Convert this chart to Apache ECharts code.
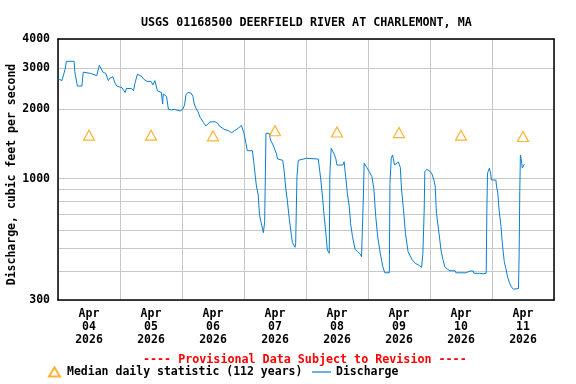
<!DOCTYPE html>
<html>
<head>
<meta charset="utf-8">
<script src="https://cdn.jsdelivr.net/npm/echarts@6/dist/echarts.min.js"></script>
<style>
html, body { margin: 0; padding: 0; background: #fff; }
#chart { width: 576px; height: 384px; }
</style>
</head>
<body>
<div id="chart"></div>
<script>
// hours since Apr 04 2026 00:00, discharge in cubic feet per second
var discharge = [
    [0, 2708], [1.5, 2645], [2, 2600], [2.75, 2961], [3.25, 3205], [6.25, 3205], [6.5, 2892],
    [7.5, 2508], [9.25, 2508], [9.75, 2877], [12.5, 2845], [15, 2780], [15.25, 2734], [16, 3082],
    [16.75, 3037], [17.5, 2870], [18.5, 2845], [19.5, 2645], [20, 2708], [21.25, 2751], [21.75, 2780],
    [22, 2590], [22.75, 2508], [23.25, 2477],
    [24.75, 2466], [25.25, 2428], [26, 2353], [26.5, 2450], [28.5, 2443], [29.25, 2394], [29.75, 2571],
    [30.75, 2822], [31.25, 2845], [32.5, 2751], [33.25, 2680], [34, 2708], [34.5, 2627], [36, 2627],
    [36.75, 2535], [37.5, 2645], [38, 2645], [38.5, 2390], [39.25, 2411], [40, 2353], [40.5, 2099],
    [40.75, 2320], [41.5, 2353], [42, 2260], [42.75, 1991], [44, 1977], [45, 1991], [45.75, 1957],
    [47.25, 1957],
    [48.25, 1991], [49, 2078], [49.5, 2295], [50.25, 2353], [51.5, 2340], [52.25, 2260], [52.75, 2099],
    [53.5, 2000], [54.25, 1940], [55, 1839], [56.25, 1750], [57.25, 1687], [57.75, 1704], [58.75, 1755],
    [60.75, 1761], [61.75, 1733], [62.5, 1687], [63.25, 1658], [64.25, 1633], [66, 1610], [67.25, 1578],
    [68.25, 1610], [69.25, 1633], [70, 1658], [71, 1696], [71.75, 1664],
    [72, 1568], [72.75, 1420], [73.25, 1320], [75.25, 1320], [75.75, 1183], [76.75, 939], [77.5, 850],
    [78, 697], [78.75, 638], [79.5, 585], [79.75, 585], [80, 652], [80.5, 1568], [81, 1585],
    [81.75, 1568], [82.25, 1468], [83.25, 1397], [84.5, 1287], [85, 1216], [87, 1200], [87.5, 1090],
    [88.25, 893], [88.75, 809], [89.5, 675], [90.25, 581], [90.75, 530], [91.75, 506], [92, 527],
    [92.5, 1020], [93, 1200], [93.75, 1210],
    [96.25, 1225], [100.75, 1215], [101.25, 1200], [101.75, 987], [102.5, 809], [103, 697],
    [103.75, 572], [104.25, 493], [105, 477], [105.25, 1055], [105.75, 1352], [106, 1370],
    [106.75, 1287], [107.5, 1225], [108, 1145], [110.25, 1145], [110.75, 1183], [111, 1165],
    [111.5, 987], [112, 865], [112.75, 757], [113.25, 642], [114, 562], [115, 496], [116, 485],
    [117, 473], [117.5, 461], [118, 461], [118.25, 865], [118.5, 1165], [118.75, 1180], [119.5, 1120],
    [120.5, 1072], [121.5, 1020], [122.25, 909], [123, 686], [123.75, 562], [124.75, 477],
    [125.75, 417], [126.5, 393], [128.25, 393], [128.5, 955], [129, 1225], [129.5, 1265],
    [129.75, 1225], [130.25, 1145], [131, 1160], [131.75, 1180], [132.5, 1120], [133, 893],
    [133.75, 733], [134.5, 581], [135.5, 485], [137, 449], [138.25, 432], [139.5, 425],
    [140.75, 415], [141.25, 477], [141.75, 733], [142, 1072], [142.75, 1098],
    [144, 1075], [144.75, 1048], [145.5, 987], [146, 930], [146.5, 709], [147.5, 581], [148.25, 493],
    [149, 449], [149.75, 417], [150.75, 407], [151.75, 401], [153.75, 401], [154, 393], [158, 393],
    [158.25, 400], [158.75, 393], [159.5, 400], [160.75, 400], [161, 391], [163.25, 391],
    [164.5, 389], [165.25, 382], [165.75, 391], [166, 709], [166.25, 1048], [166.5, 1075],
    [167, 1110], [167.5, 1048],
    [167.75, 987], [169.5, 987], [169.75, 930], [170.25, 865], [170.75, 733], [171.5, 621],
    [172, 525], [172.75, 439], [173.5, 404], [174, 378], [174.75, 356], [175.5, 342], [176.25, 334],
    [177, 336], [178.25, 336], [178.5, 469], [178.75, 879], [179, 1265], [179.25, 1225],
    [179.5, 1165], [179.75, 1111], [180.25, 1120], [180.5, 1155]
];

var medianHours = [12, 36, 60, 84, 108, 132, 156, 180];
var medianCfs = [1540, 1540, 1530, 1610, 1590, 1580, 1540, 1520];

var dayTicks = [12, 36, 60, 84, 108, 132, 156, 180];
var dayLabels = ['Apr\n04\n2026', 'Apr\n05\n2026', 'Apr\n06\n2026', 'Apr\n07\n2026',
                 'Apr\n08\n2026', 'Apr\n09\n2026', 'Apr\n10\n2026', 'Apr\n11\n2026'];

var yLabelValues = [300, 1000, 2000, 3000, 4000];
var yGridValues = [300, 400, 500, 600, 700, 800, 900, 1000, 2000, 3000, 4000];

var FONT = 'DejaVu Sans Mono';
var medianName = 'Median daily statistic (112 years)';

var chart = echarts.init(document.getElementById('chart'), null, { renderer: 'canvas' });

chart.setOption({
    animation: false,
    backgroundColor: '#fff',
    textStyle: { fontFamily: FONT },
    title: [{
        text: 'USGS 01168500 DEERFIELD RIVER AT CHARLEMONT, MA',
        left: 136,
        top: 12,
        textStyle: { fontFamily: FONT, fontSize: 11.7, fontWeight: 'bold', color: '#000' }
    }, {
        text: '---- Provisional Data Subject to Revision ----',
        left: 138,
        top: 349,
        textStyle: { fontFamily: FONT, fontSize: 11.7, fontWeight: 'bold', color: '#ff0000' }
    }],
    legend: [{
        data: [{ name: medianName, icon: 'triangle' }],
        left: 48,
        top: 366,
        itemWidth: 11,
        itemHeight: 9,
        padding: 0,
        textStyle: { fontFamily: FONT, fontSize: 11.5, fontWeight: 'bold', color: '#000', padding: [0, 0, 0, 2] }
    }, {
        data: [{ name: 'Discharge', icon: 'rect' }],
        left: 312,
        top: 366,
        itemWidth: 19,
        itemHeight: 1.2,
        padding: 0,
        textStyle: { fontFamily: FONT, fontSize: 11.5, fontWeight: 'bold', color: '#000' }
    }],
    grid: { left: 58, right: 22, top: 39, bottom: 84, outerBoundsMode: 'none' },
    xAxis: [{
        type: 'value',
        min: 0,
        max: 192,
        interval: 24,
        axisLine: { show: true, onZero: false, lineStyle: { color: '#000', width: 1.5 } },
        axisTick: { show: false },
        splitLine: { show: true, lineStyle: { color: '#c8c8c8', width: 1 } },
        axisLabel: {
            customValues: dayTicks,
            margin: 8,
            lineHeight: 13,
            fontFamily: FONT,
            fontSize: 11.5,
            fontWeight: 'bold',
            color: '#000',
            formatter: function (v) {
                var i = dayTicks.indexOf(v);
                return i < 0 ? '' : dayLabels[i];
            }
        }
    }, {
        type: 'value',
        position: 'top',
        min: 0,
        max: 192,
        axisLine: { show: true, onZero: false, lineStyle: { color: '#000', width: 1.5 } },
        axisTick: { show: false },
        axisLabel: { show: false },
        splitLine: { show: false }
    }],
    yAxis: [{
        type: 'log',
        logBase: 10,
        min: 300,
        max: 4000,
        name: 'Discharge, cubic feet per second',
        nameLocation: 'middle',
        nameGap: 40,
        nameMoveOverlap: false,
        nameTextStyle: { fontFamily: FONT, fontSize: 11.5, fontWeight: 'bold', color: '#000', padding: [0, 10, 0, 0] },
        axisLine: { show: true, onZero: false, lineStyle: { color: '#000', width: 1.5 } },
        axisTick: { show: false, customValues: yGridValues },
        splitLine: { show: true, lineStyle: { color: '#c8c8c8', width: 1 } },
        axisLabel: {
            customValues: yLabelValues,
            margin: 8,
            fontFamily: FONT,
            fontSize: 11.5,
            fontWeight: 'bold',
            color: '#000',
            formatter: function (v) { return String(Math.round(v)); }
        }
    }, {
        type: 'value',
        position: 'right',
        min: 0,
        max: 1,
        axisLine: { show: true, onZero: false, lineStyle: { color: '#000', width: 1.5 } },
        axisTick: { show: false },
        axisLabel: { show: false },
        splitLine: { show: false }
    }],
    series: [{
        name: medianName,
        type: 'scatter',
        symbol: 'triangle',
        symbolSize: [11, 10],
        itemStyle: { color: 'rgba(255,255,255,0)', borderColor: '#ffa000', borderWidth: 1.2 },
        data: medianHours.map(function (h, i) { return [h, medianCfs[i]]; }),
        z: 3
    }, {
        name: 'Discharge',
        type: 'line',
        symbol: 'none',
        lineStyle: { color: '#0a7fd0', width: 1 },
        itemStyle: { color: '#0a7fd0' },
        data: discharge,
        z: 2
    }]
});
</script>
</body>
</html>
